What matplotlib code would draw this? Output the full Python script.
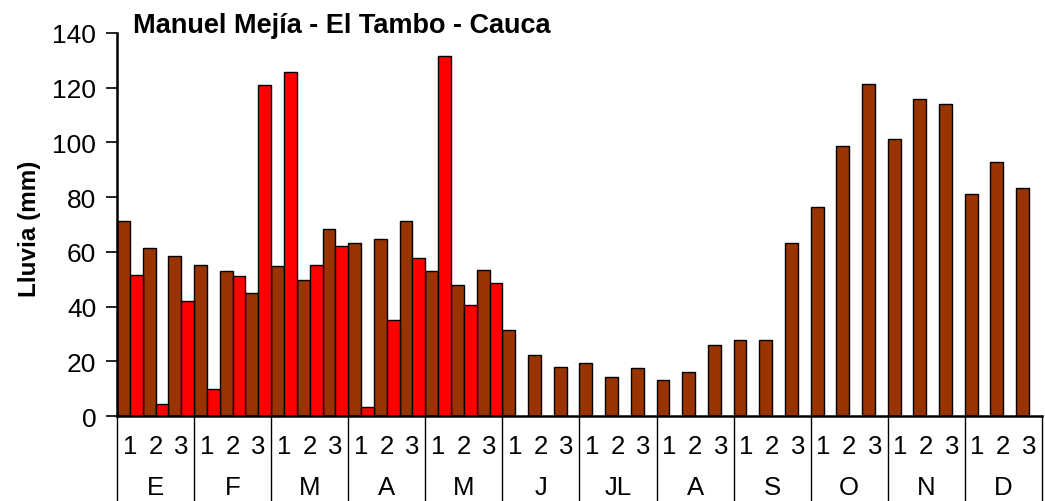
import numpy as np
import matplotlib.pyplot as plt
from matplotlib.transforms import blended_transform_factory

plt.rcParams['font.family'] = ['Liberation Sans', 'DejaVu Sans']

# Lluvia por decada (mm)
meses = ['E', 'F', 'M', 'A', 'M', 'J', 'JL', 'A', 'S', 'O', 'N', 'D']
decadas = ['1', '2', '3']
serie_cafe = [71.4, 61.4, 58.4, 55.3, 52.9, 45.0, 54.7, 49.8, 68.3,
              63.2, 64.7, 71.4, 52.9, 48.0, 53.5, 31.5, 22.3, 18.0,
              19.3, 14.4, 17.4, 13.0, 16.2, 25.9, 27.9, 27.9, 63.3,
              76.3, 98.8, 121.5, 101.2, 116.0, 114.2, 81.0, 92.7, 83.4]
serie_roja = [51.6, 4.4, 41.9, 9.9, 51.0, 121.0, 125.8, 55.3, 62.1,
              3.2, 35.1, 57.7, 131.5, 40.6, 48.7]

fig = plt.figure(figsize=(10.45, 5.02), dpi=100)
ax = fig.add_axes([0.112, 0.1693, 0.885, 0.763])

x = np.arange(len(serie_cafe))
ax.bar(x - 0.25, serie_cafe, width=0.5, color='#993300', edgecolor='black', linewidth=1)
xr = np.arange(len(serie_roja))
ax.bar(xr + 0.25, serie_roja, width=0.5, color='#FF0000', edgecolor='black', linewidth=1)

ax.set_xlim(-0.5, len(serie_cafe) - 0.5)
ax.set_ylim(0, 140)
ax.set_yticks(np.arange(0, 141, 20))
ax.tick_params(axis='y', labelsize=19, length=8, width=1.2, pad=7)
ax.set_xticks([])
ax.spines['top'].set_visible(False)
ax.spines['right'].set_visible(False)
ax.spines['left'].set_linewidth(1.8)
ax.spines['bottom'].set_linewidth(1.8)

fig.text(0.0287, 0.544, 'Lluvia (mm)', fontsize=17.5, fontweight='bold',
         rotation=90, ha='center', va='center')
fig.text(0.127, 0.949, 'Manuel Mejía - El Tambo - Cauca', fontsize=19.5,
         fontweight='bold', ha='left', va='center')

# etiquetas de dos niveles en el eje x
trans = blended_transform_factory(ax.transData, ax.transAxes)
for i in range(len(serie_cafe)):
    ax.text(i, -0.078, decadas[i % 3], transform=trans, ha='center', va='center',
            fontsize=18.5)
for m, nombre in enumerate(meses):
    ax.text(3 * m + 1, -0.185, nombre, transform=trans, ha='center', va='center',
            fontsize=18.5)
for m in range(len(meses) + 1):
    ax.plot([3 * m - 0.5, 3 * m - 0.5], [0, -0.23], transform=trans, color='black',
            linewidth=1, clip_on=False)

fig.savefig('out.png', dpi=100)
